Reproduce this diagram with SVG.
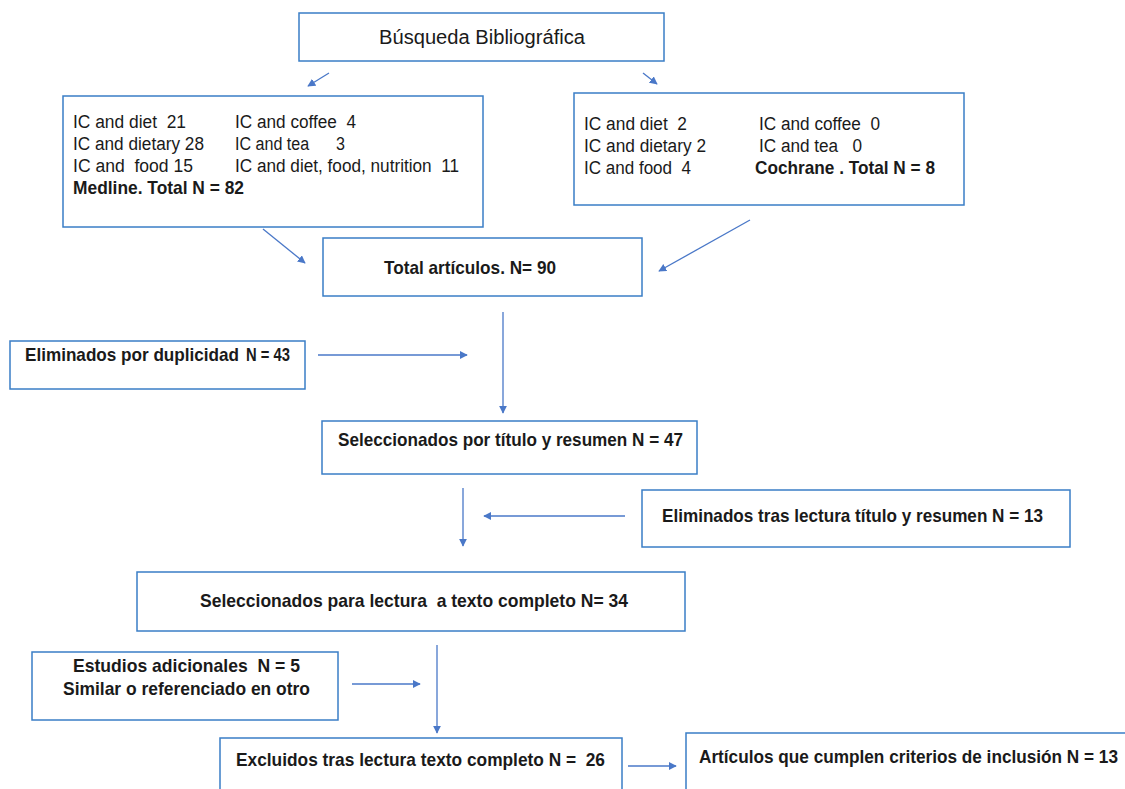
<svg xmlns="http://www.w3.org/2000/svg" width="1125" height="789" viewBox="0 0 1125 789">
<style>
.box{fill:#fff;stroke:#3A7EC6;stroke-width:1.5}
.t{font-family:"Liberation Sans",Arial,sans-serif;fill:#1a1a1a;white-space:pre}
.n{font-size:18px}
.b{font-size:19px;font-weight:bold}
.c{stroke:#4A78C8;stroke-width:1.3;fill:none;marker-end:url(#ah)}
</style>
<defs>
<marker id="ah" viewBox="0 0 10 10" refX="9" refY="5" markerWidth="8" markerHeight="8" markerUnits="userSpaceOnUse" orient="auto">
<path d="M0,0 L10,5 L0,10 z" fill="#4A78C8"/>
</marker>
</defs>
<rect width="1125" height="789" fill="#fff"/>
<g id="connectors">
<line class="c" x1="329" y1="73" x2="308" y2="86"/>
<line class="c" x1="643" y1="73" x2="657" y2="84"/>
<line class="c" x1="263" y1="229" x2="305" y2="263"/>
<line class="c" x1="750" y1="220" x2="659" y2="271"/>
<line class="c" x1="503" y1="312" x2="503" y2="413"/>
<line class="c" x1="318" y1="355" x2="467" y2="355"/>
<line class="c" x1="463" y1="488" x2="463" y2="546"/>
<line class="c" x1="625" y1="516" x2="484" y2="516"/>
<line class="c" x1="437" y1="645" x2="437" y2="733"/>
<line class="c" x1="352" y1="684" x2="420" y2="684"/>
<line class="c" x1="628" y1="766" x2="676" y2="766"/>
</g>
<g id="busqueda">
<rect class="box" x="299" y="13" width="365" height="48"/>
<text class="t" x="379" y="44" font-size="20" textLength="206" lengthAdjust="spacingAndGlyphs">Búsqueda Bibliográfica</text>
</g>
<g id="medline">
<rect class="box" x="63" y="96" width="420" height="131"/>
<text class="t n" x="73" y="128" textLength="113" lengthAdjust="spacingAndGlyphs">IC and diet  21</text>
<text class="t n" x="235" y="128" textLength="121" lengthAdjust="spacingAndGlyphs">IC and coffee  4</text>
<text class="t n" x="73" y="150" textLength="131" lengthAdjust="spacingAndGlyphs">IC and dietary 28</text>
<text class="t n" x="235" y="150" textLength="110" lengthAdjust="spacingAndGlyphs">IC and tea      3</text>
<text class="t n" x="73" y="172" textLength="120" lengthAdjust="spacingAndGlyphs">IC and  food 15</text>
<text class="t n" x="235" y="172" textLength="224" lengthAdjust="spacingAndGlyphs">IC and diet, food, nutrition  11</text>
<text class="t b" x="73" y="194" font-size="18" textLength="171" lengthAdjust="spacingAndGlyphs">Medline. Total N = 82</text>
</g>
<g id="cochrane">
<rect class="box" x="574" y="93" width="390" height="112"/>
<text class="t n" x="584" y="130" textLength="103" lengthAdjust="spacingAndGlyphs">IC and diet  2</text>
<text class="t n" x="759" y="130" textLength="121" lengthAdjust="spacingAndGlyphs">IC and coffee  0</text>
<text class="t n" x="584" y="152" textLength="122" lengthAdjust="spacingAndGlyphs">IC and dietary 2</text>
<text class="t n" x="759" y="152" textLength="103" lengthAdjust="spacingAndGlyphs">IC and tea   0</text>
<text class="t n" x="584" y="174" textLength="107" lengthAdjust="spacingAndGlyphs">IC and food  4</text>
<text class="t b" x="755" y="174" font-size="18" textLength="180" lengthAdjust="spacingAndGlyphs">Cochrane . Total N = 8</text>
</g>
<g id="total">
<rect class="box" x="323" y="238" width="319" height="58"/>
<text class="t b" x="384" y="274" textLength="172" lengthAdjust="spacingAndGlyphs">Total artículos. N= 90</text>
</g>
<g id="duplicidad">
<rect class="box" x="10" y="341" width="295" height="48"/>
<text class="t b" x="25" y="361" textLength="214" lengthAdjust="spacingAndGlyphs">Eliminados por duplicidad</text>
<text class="t b" x="246" y="361" font-size="13" textLength="44" lengthAdjust="spacingAndGlyphs">N = 43</text>
</g>
<g id="sel-titulo">
<rect class="box" x="322" y="421" width="375" height="53"/>
<text class="t b" x="338" y="446" textLength="345" lengthAdjust="spacingAndGlyphs">Seleccionados por título y resumen N = 47</text>
</g>
<g id="elim-titulo">
<rect class="box" x="642" y="490" width="428" height="57"/>
<text class="t b" x="662" y="522" textLength="381" lengthAdjust="spacingAndGlyphs">Eliminados tras lectura título y resumen N = 13</text>
</g>
<g id="sel-lectura">
<rect class="box" x="137" y="572" width="548" height="59"/>
<text class="t b" x="200" y="607" textLength="428" lengthAdjust="spacingAndGlyphs">Seleccionados para lectura  a texto completo N= 34</text>
</g>
<g id="adicionales">
<rect class="box" x="32" y="652" width="306" height="68"/>
<text class="t b" x="73" y="672" textLength="227" lengthAdjust="spacingAndGlyphs">Estudios adicionales  N = 5</text>
<text class="t b" x="63" y="695" textLength="247" lengthAdjust="spacingAndGlyphs">Similar o referenciado en otro</text>
</g>
<g id="excluidos">
<rect class="box" x="220" y="738" width="402" height="60"/>
<text class="t b" x="236" y="766" textLength="369" lengthAdjust="spacingAndGlyphs">Excluidos tras lectura texto completo N =  26</text>
</g>
<g id="incluidos">
<rect class="box" x="686" y="733" width="450" height="65"/>
<text class="t b" x="699" y="763" textLength="419" lengthAdjust="spacingAndGlyphs">Artículos que cumplen criterios de inclusión N = 13</text>
</g>
</svg>
